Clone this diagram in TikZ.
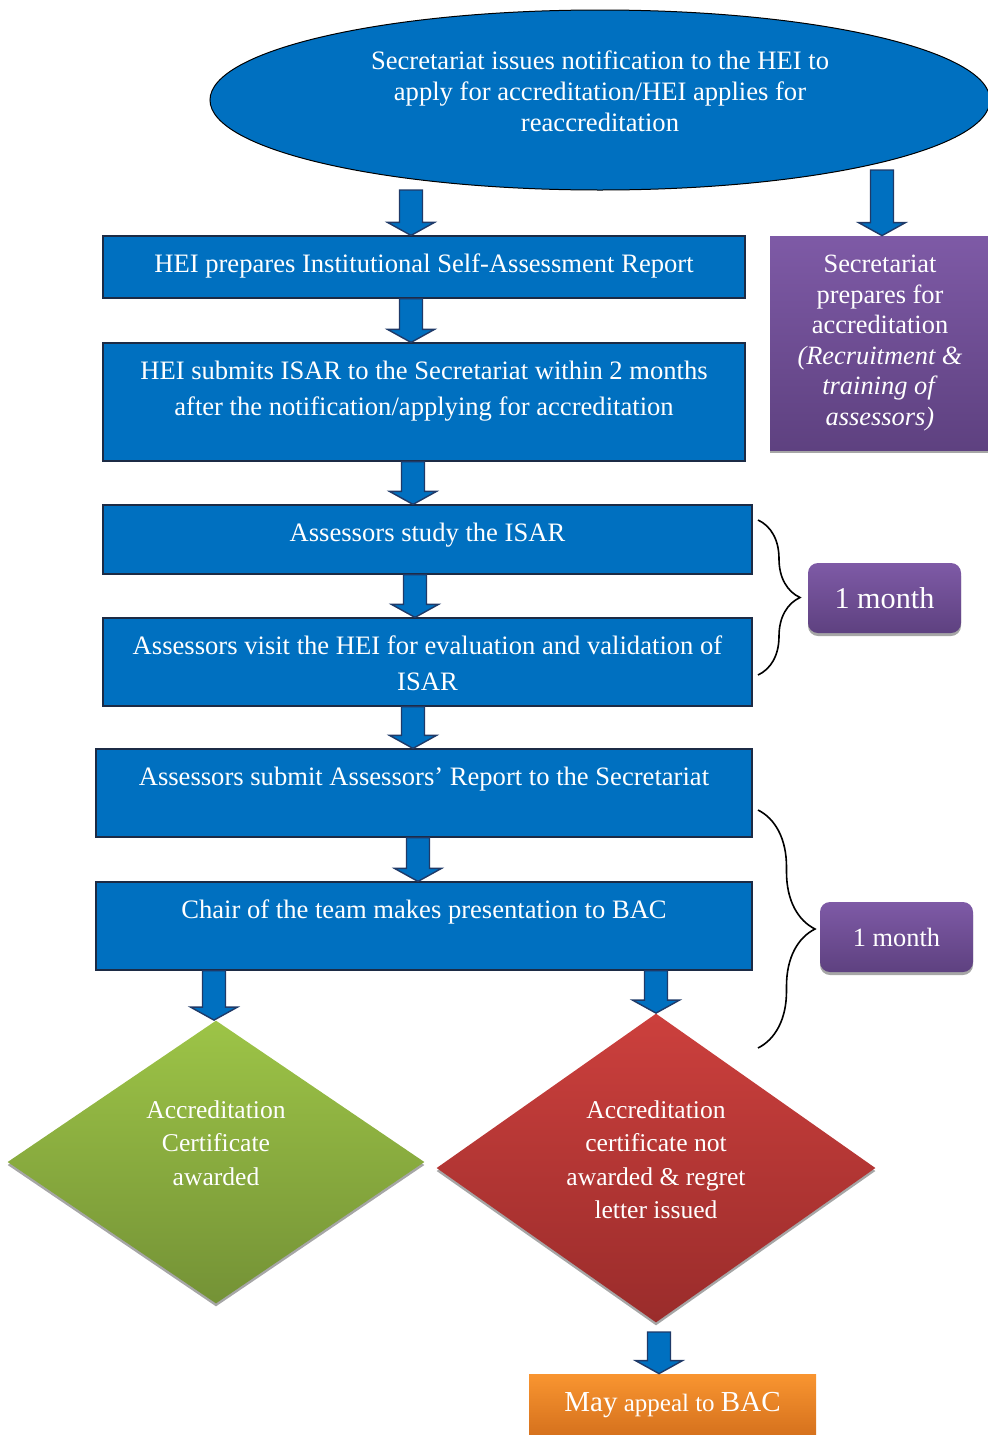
\documentclass[tikz,border=0pt]{standalone}
\usepackage{fontspec}
\setmainfont{Liberation Serif}
\usetikzlibrary{shapes.geometric,shadows,calc,decorations.pathreplacing}

\definecolor{hecblue}{HTML}{0070C0}
\definecolor{arrownavy}{HTML}{1F3A68}
\definecolor{boxline}{HTML}{1C2B45}
\definecolor{purpletop}{HTML}{7E5AA6}
\definecolor{purplebot}{HTML}{5E4180}
\definecolor{greentop}{HTML}{9DC447}
\definecolor{greenbot}{HTML}{749236}
\definecolor{redtop}{HTML}{CC403D}
\definecolor{redbot}{HTML}{9A2C2B}
\definecolor{orangetop}{HTML}{F99530}
\definecolor{orangebot}{HTML}{D5711D}
\definecolor{shadowgray}{HTML}{A6A6A6}

\tikzset{
	flowbox/.style={draw=boxline, line width=0.6pt, fill=hecblue, text=white,
		align=center, inner xsep=0pt, inner ysep=0pt, text height=18pt,
		font=\fontsize{13.3}{18}\selectfont},
	blockarrow/.style={fill=hecblue, draw=arrownavy, line width=0.7pt, line join=miter},
	graybase/.style={drop shadow={shadow xshift=0pt, shadow yshift=-1.5pt,
		fill=shadowgray, opacity=1}},
	monthbox/.style={rounded corners=5pt, top color=purpletop, bottom color=purplebot,
		text=white, minimum width=76.5pt, minimum height=35pt, graybase},
	decision/.style={diamond, inner sep=0pt, text=white, align=center,
		font=\fontsize{12.8}{16.8}\selectfont, graybase},
	timebrace/.style={decorate, line width=0.8pt}
}

% block arrow: x position, from, to
\newcommand{\flowarrow}[3]{%
	\draw[blockarrow] let \p1=(#2), \p2=(#3), \p3=(#1,0) in
		(\x3-5.75pt,\y1) -- (\x3+5.75pt,\y1) -- (\x3+5.75pt,\y2+6.5pt)
		-- (\x3+11.75pt,\y2+6.5pt) -- (\x3,\y2) -- (\x3-11.75pt,\y2+6.5pt)
		-- (\x3-5.75pt,\y2+6.5pt) -- cycle;}

\begin{document}
\begin{tikzpicture}[x=0.5pt, y=-0.5pt]
	\useasboundingbox (0,0) rectangle (988,1435);
	%start
	\node[ellipse, draw=black, line width=0.5pt, fill=hecblue, text=white, align=center,
		minimum width=390pt, minimum height=90pt, text height=40pt, text depth=9pt,
		font=\fontsize{13.3}{15.5}\selectfont] (notify) at (600,100)
		{Secretariat issues notification to the HEI to\\
		 apply for accreditation/HEI applies for\\
		 reaccreditation};
	%steps
	\node[flowbox, minimum width=321pt, minimum height=31pt, text depth=13pt] (isar) at (424,267)
		{HEI prepares Institutional Self-Assessment Report};
	\node[flowbox, minimum width=321pt, minimum height=59pt, text height=36pt, text depth=23pt] (submit) at (424,402)
		{HEI submits ISAR to the Secretariat within 2 months\\
		 after the notification/applying for accreditation};
	\node[flowbox, minimum width=324.5pt, minimum height=34.5pt, text depth=16.5pt] (study) at (427.5,539.5)
		{Assessors study the ISAR};
	\node[flowbox, minimum width=324.5pt, minimum height=44pt, text height=36pt, text depth=8pt] (visit) at (427.5,662)
		{Assessors visit the HEI for evaluation and validation of\\ ISAR};
	\node[flowbox, minimum width=328pt, minimum height=44pt, text depth=26pt] (report) at (424,793)
		{Assessors submit Assessors’ Report to the Secretariat};
	\node[flowbox, minimum width=328pt, minimum height=44pt, text depth=26pt] (chair) at (424,926)
		{Chair of the team makes presentation to BAC};
	%side boxes
	\node[top color=purpletop, bottom color=purplebot, text=white, align=center,
		minimum width=110pt, minimum height=107pt, graybase,
		font=\fontsize{13.2}{15.3}\selectfont] (prep) at (880,343)
		{Secretariat\\ prepares for\\ accreditation\\ \textit{(Recruitment \&}\\
		 \textit{training of}\\ \textit{assessors)}};
	\node[monthbox, font=\fontsize{15.1}{17}\selectfont] (month a) at (884.5,598) {1 month};
	\node[monthbox, font=\fontsize{13.2}{15}\selectfont] (month b) at (896.5,937) {1 month};
	%outcomes
	\node[decision, top color=greentop, bottom color=greenbot, aspect=1.47,
		minimum width=208.5pt, minimum height=141.5pt, text height=42.6pt, text depth=19.4pt] (award) at (216,1162)
		{Accreditation\\ Certificate\\ awarded};
	\node[decision, top color=redtop, bottom color=redbot, aspect=1.42,
		minimum width=219.5pt, minimum height=154.5pt, text height=59.4pt, text depth=8.6pt] (regret) at (656,1168)
		{Accreditation\\ certificate not\\ awarded \& regret\\ letter issued};
	\node[top color=orangetop, bottom color=orangebot, text=white,
		minimum width=143.5pt, minimum height=31pt,
		font=\fontsize{12.5}{15}\selectfont] (appeal) at (672.5,1405)
		{{\fontsize{14.5}{16}\selectfont May} appeal to {\fontsize{14.5}{16}\selectfont BAC}};
	%arrows
	\coordinate (notify left) at (411,190);
	\coordinate (notify right) at (882,170);
	\coordinate (regret tip) at (659,1332);
	\flowarrow{411}{notify left}{isar.north}
	\flowarrow{882}{notify right}{prep.north}
	\flowarrow{411}{isar.south}{submit.north}
	\flowarrow{413}{submit.south}{study.north}
	\flowarrow{415}{study.south}{visit.north}
	\flowarrow{413}{visit.south}{report.north}
	\flowarrow{418}{report.south}{chair.north}
	\flowarrow{214}{chair.south}{award.north}
	\flowarrow{656}{chair.south}{regret.north}
	\flowarrow{659}{regret tip}{appeal.north}
	%braces
	\coordinate (brace a top) at (758,520);
	\coordinate (brace a bottom) at (758,675);
	\coordinate (brace b top) at (758,810);
	\coordinate (brace b bottom) at (758,1048);
	\draw[timebrace, decoration={brace, amplitude=21pt}] (brace a top) -- (brace a bottom);
	\draw[timebrace, decoration={brace, amplitude=28.5pt}] (brace b top) -- (brace b bottom);
\end{tikzpicture}
\end{document}
